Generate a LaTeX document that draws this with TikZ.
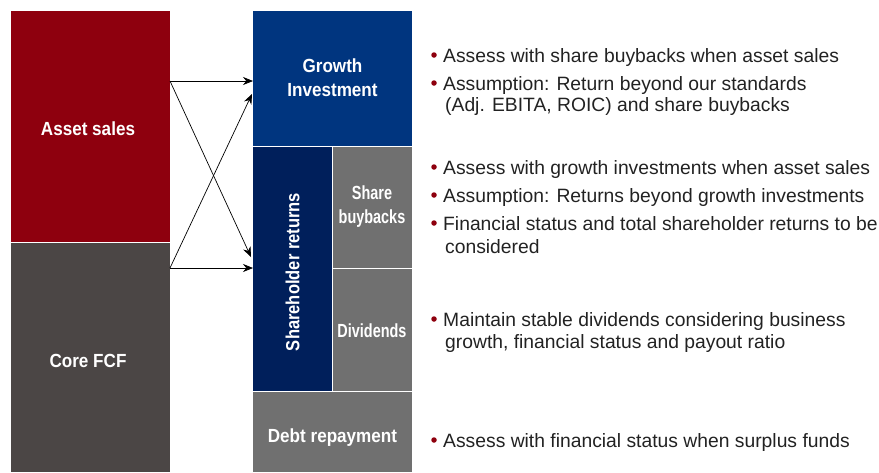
\documentclass[tikz,border=0pt]{standalone}
\usepackage{fontspec}
\setmainfont{Liberation Sans}
\newfontfamily\condfont{Liberation Sans}[FakeStretch=0.9]
\newfontfamily\narrowfont{Liberation Sans}[FakeStretch=0.76]
\newfontfamily\midfont{Liberation Sans}[FakeStretch=0.87]
\usetikzlibrary{arrows.meta}
\definecolor{cRed}{HTML}{8E000E}
\definecolor{cDark}{HTML}{4B4645}
\definecolor{cBlue}{HTML}{00357F}
\definecolor{cNavy}{HTML}{001F5B}
\definecolor{cGray}{HTML}{707070}
\definecolor{cBul}{HTML}{8E000E}
\definecolor{cTxt}{HTML}{222222}
\tikzset{
  blk/.style={text=white, font=\condfont\bfseries\fontsize{19}{24}\selectfont, align=center, inner sep=0pt},
  blknarrow/.style={blk, font=\narrowfont\bfseries\fontsize{19}{24}\selectfont},
  flow/.style={draw=black, line width=0.7pt, -{Stealth[length=10pt,width=8pt]}},
  btxt/.style={anchor=base west, inner sep=0pt, text=cTxt, font=\fontsize{19.3}{22}\selectfont},
  bdot/.style={circle, fill=cBul, inner sep=0pt, minimum size=5.5pt},
}
\begin{document}
\begin{tikzpicture}[x=1pt,y=-1pt]
\useasboundingbox (0,0) rectangle (879,472);
% left blocks
\path[fill=cRed] (11,11) rectangle (170,242);
\path[fill=cDark] (11,242) rectangle (170,472);
\draw[white, line width=0.8pt] (11,242) -- (170,242);
\node[blk] (asset) at (88,129) {Asset sales};
\node[blk] (core) at (88,361) {Core FCF};
\coordinate (a1) at (170,81);
\coordinate (c1) at (170,268);
% right blocks
\path[fill=cBlue] (253,11) rectangle (412,146);
\path[fill=cNavy] (253,146) rectangle (332,391);
\path[fill=cGray] (332,146) rectangle (412,268);
\path[fill=cGray] (332,268) rectangle (412,391);
\path[fill=cGray] (253,391) rectangle (412,472);
\draw[white, line width=0.9pt] (253,146.5) -- (412,146.5);
\draw[white, line width=0.9pt] (332.5,146.5) -- (332.5,391);
\draw[white, line width=0.9pt] (332.5,268.5) -- (412,268.5);
\draw[white, line width=0.9pt] (253,391.5) -- (412,391.5);
\node[blk] (growth) at (332.5,78) {Growth\\Investment};
\node[blk, font=\midfont\bfseries\fontsize{19}{24}\selectfont, rotate=90] (share) at (292.5,272) {Shareholder returns};
\node[blknarrow] (buyback) at (372,207) {Share\\buybacks};
\node[blknarrow] (divid) at (372,331) {Dividends};
\node[blk] (debt) at (332.5,438) {Debt repayment};
\coordinate (g1) at (253,81);
\coordinate (g2) at (252,94);
\coordinate (s1) at (251,257);
\coordinate (s2) at (253,268);
% arrows
\draw[flow] (a1) -- (g1);
\draw[flow] (a1) -- (s1);
\draw[flow] (c1) -- (s2);
\draw[flow] (c1) -- (g2);
% bullets
\node[bdot] (d1) at (434,55) {};
\node[btxt] (t1) at (443,62) {Assess with share buybacks when asset sales};
\node[bdot] (d2) at (434,83) {};
\node[btxt] (t2) at (443,90) {Assumption: Return beyond our standards};
\node[btxt] (t2b) at (445,111) {(Adj. EBITA, ROIC) and share buybacks};
\node[bdot] (d3) at (434,167) {};
\node[btxt] (t3) at (443,174) {Assess with growth investments when asset sales};
\node[bdot] (d4) at (434,195) {};
\node[btxt] (t4) at (443,202) {Assumption: Returns beyond growth investments};
\node[bdot] (d5) at (434,223) {};
\node[btxt] (t5) at (443,230) {Financial status and total shareholder returns to be};
\node[btxt] (t5b) at (445,253) {considered};
\node[bdot] (d6) at (434,319) {};
\node[btxt] (t6) at (443,326) {Maintain stable dividends considering business};
\node[btxt] (t6b) at (445,348) {growth, financial status and payout ratio};
\node[bdot] (d7) at (434,440) {};
\node[btxt] (t7) at (443,447) {Assess with financial status when surplus funds};
\end{tikzpicture}
\end{document}
